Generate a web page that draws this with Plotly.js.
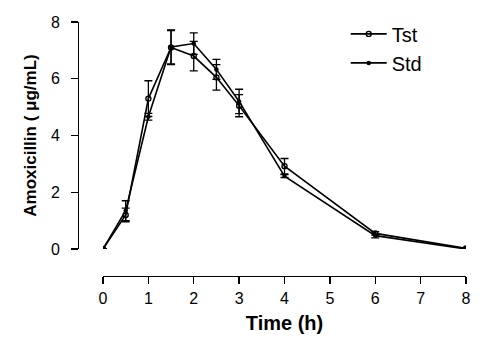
<!DOCTYPE html>
<html>
<head>
<meta charset="utf-8">
<script src="https://cdn.plot.ly/plotly-3.0.1.min.js"></script>
<style>html,body{margin:0;padding:0;background:#fff;}#chart{width:500px;height:352px;}</style>
</head>
<body>
<div id="chart"></div>
<script>
var time = [0, 0.5, 1, 1.5, 2, 2.5, 3, 4, 6, 8];
var tst = [0, 1.2, 5.3, 7.1, 6.8, 6.05, 5.05, 2.92, 0.55, 0.02];
var tstSD = [0, 0.24, 0.63, 0.6, 0.52, 0.45, 0.39, 0.27, 0.06, 0];
var std = [0, 1.35, 4.66, 7.12, 7.24, 6.33, 5.2, 2.57, 0.47, 0];
var stdSD = [0, 0.35, 0.12, 0.6, 0.38, 0.35, 0.43, 0.05, 0.08, 0];
var xTicks = [0, 1, 2, 3, 4, 5, 6, 7, 8];
var yTicks = [0, 2, 4, 6, 8];

var traces = [
  {
    x: time, y: tst, name: 'Tst', type: 'scatter', mode: 'lines+markers',
    line: {color: '#000', width: 1.6},
    marker: {symbol: 'circle-open', size: 5, color: '#000', line: {color: '#000', width: 1.4}},
    error_y: {type: 'data', array: tstSD, visible: true, color: '#000', thickness: 1.3, width: 4}
  },
  {
    x: time, y: std, name: 'Std', type: 'scatter', mode: 'lines+markers',
    line: {color: '#000', width: 1.6},
    marker: {symbol: 'circle', size: 4.5, color: '#000'},
    error_y: {type: 'data', array: stdSD, visible: true, color: '#000', thickness: 1.3, width: 4}
  }
];

var layout = {
  width: 500, height: 352,
  margin: {l: 78, r: 34, t: 22, b: 76, pad: 0},
  paper_bgcolor: '#fff', plot_bgcolor: '#fff',
  font: {family: 'Liberation Sans, Arial, sans-serif', color: '#000'},
  showlegend: true,
  legend: {
    x: 0.69, y: 1.03, xanchor: 'left', yanchor: 'top',
    font: {size: 20, color: '#000'}, bgcolor: 'rgba(0,0,0,0)',
    itemwidth: 36
  },
  xaxis: {
    domain: [0.0644, 1], range: [0, 8], anchor: 'free', position: 0,
    tickvals: xTicks, ticktext: xTicks.map(String),
    ticks: 'outside', ticklen: 7, tickwidth: 1.3, tickcolor: '#000',
    showline: true, linecolor: '#000', linewidth: 1.3,
    showgrid: false, zeroline: false,
    tickfont: {size: 16, color: '#000'}, ticklabelstandoff: 0,
    title: {text: 'Time (h)', font: {size: 20, color: '#000', family: 'Liberation Sans, Arial, sans-serif', weight: 'bold'}, standoff: 10}
  },
  yaxis: {
    domain: [0.1063, 1], range: [0, 8], anchor: 'free', position: 0,
    tickvals: yTicks, ticktext: yTicks.map(String),
    ticks: 'outside', ticklen: 7, tickwidth: 1.3, tickcolor: '#000',
    showline: true, linecolor: '#000', linewidth: 1.3,
    showgrid: false, zeroline: false,
    tickfont: {size: 16, color: '#000'}, ticklabelstandoff: 8,
    title: {text: 'Amoxicillin ( μg/mL)', font: {size: 17, color: '#000', family: 'Liberation Sans, Arial, sans-serif', weight: 'bold'}, standoff: 8}
  }
};

Plotly.newPlot('chart', traces, layout, {displayModeBar: false, staticPlot: true});
</script>
</body>
</html>
